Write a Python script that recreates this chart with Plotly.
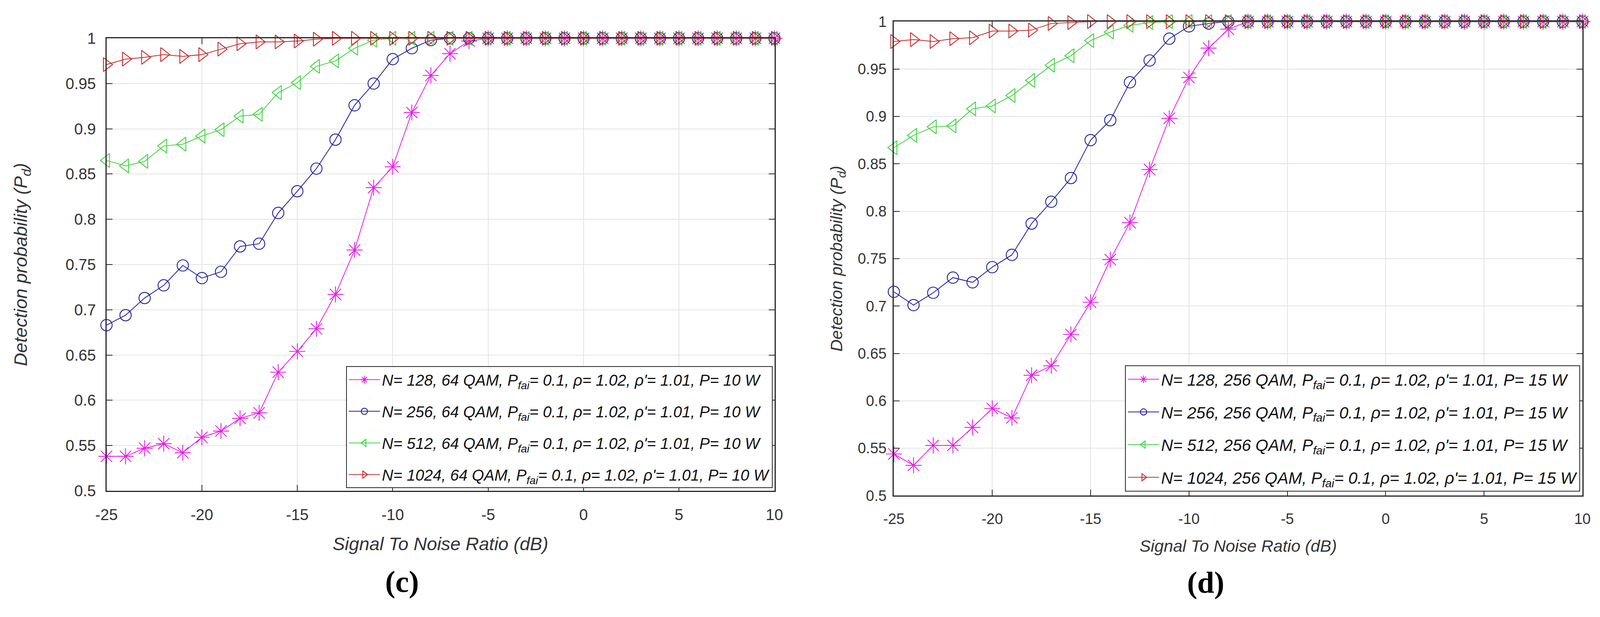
import plotly.graph_objects as go
from plotly.subplots import make_subplots

# SNR grid (dB)
snr_db = [-25, -24, -23, -22, -21, -20, -19, -18, -17, -16, -15, -14,
          -13, -12, -11, -10, -9, -8, -7, -6, -5, -4, -3, -2,
          -1, 0, 1, 2, 3, 4, 5, 6, 7, 8, 9, 10]

# (c) 64 QAM, P = 10 W
pd_c_128 = [0.538, 0.538, 0.547, 0.552, 0.542, 0.559, 0.566, 0.580, 0.586, 0.631, 0.654, 0.679,
            0.717, 0.766, 0.835, 0.858, 0.918, 0.959, 0.983, 0.997, 1.0, 1.0, 1.0, 1.0,
            1.0, 1.0, 1.0, 1.0, 1.0, 1.0, 1.0, 1.0, 1.0, 1.0, 1.0, 1.0]
pd_c_256 = [0.683, 0.694, 0.713, 0.727, 0.749, 0.735, 0.742, 0.770, 0.773, 0.807, 0.831, 0.856,
            0.888, 0.926, 0.950, 0.977, 0.989, 0.998, 1.0, 1.0, 1.0, 1.0, 1.0, 1.0,
            1.0, 1.0, 1.0, 1.0, 1.0, 1.0, 1.0, 1.0, 1.0, 1.0, 1.0, 1.0]
pd_c_512 = [0.865, 0.859, 0.864, 0.881, 0.883, 0.892, 0.899, 0.914, 0.916, 0.940, 0.951, 0.969,
            0.975, 0.989, 0.998, 1.0, 1.0, 1.0, 1.0, 1.0, 1.0, 1.0, 1.0, 1.0,
            1.0, 1.0, 1.0, 1.0, 1.0, 1.0, 1.0, 1.0, 1.0, 1.0, 1.0, 1.0]
pd_c_1024 = [0.971, 0.977, 0.979, 0.982, 0.980, 0.982, 0.988, 0.994, 0.996, 0.996, 0.997, 0.999,
             1.0, 1.0, 1.0, 1.0, 1.0, 1.0, 1.0, 1.0, 1.0, 1.0, 1.0, 1.0,
             1.0, 1.0, 1.0, 1.0, 1.0, 1.0, 1.0, 1.0, 1.0, 1.0, 1.0, 1.0]

# (d) 256 QAM, P = 15 W
pd_d_128 = [0.544, 0.532, 0.553, 0.553, 0.572, 0.592, 0.582, 0.627, 0.637, 0.670, 0.704, 0.749,
            0.788, 0.844, 0.898, 0.941, 0.972, 0.992, 1.0, 1.0, 1.0, 1.0, 1.0, 1.0,
            1.0, 1.0, 1.0, 1.0, 1.0, 1.0, 1.0, 1.0, 1.0, 1.0, 1.0, 1.0]
pd_d_256 = [0.715, 0.701, 0.714, 0.730, 0.725, 0.741, 0.754, 0.787, 0.810, 0.835, 0.875, 0.896,
            0.936, 0.959, 0.982, 0.995, 0.998, 1.0, 1.0, 1.0, 1.0, 1.0, 1.0, 1.0,
            1.0, 1.0, 1.0, 1.0, 1.0, 1.0, 1.0, 1.0, 1.0, 1.0, 1.0, 1.0]
pd_d_512 = [0.867, 0.880, 0.889, 0.890, 0.908, 0.911, 0.922, 0.938, 0.954, 0.964, 0.980, 0.989,
            0.996, 0.999, 1.0, 1.0, 1.0, 1.0, 1.0, 1.0, 1.0, 1.0, 1.0, 1.0,
            1.0, 1.0, 1.0, 1.0, 1.0, 1.0, 1.0, 1.0, 1.0, 1.0, 1.0, 1.0]
pd_d_1024 = [0.979, 0.981, 0.979, 0.982, 0.983, 0.990, 0.990, 0.991, 0.998, 0.999, 1.0, 1.0,
             1.0, 1.0, 1.0, 1.0, 1.0, 1.0, 1.0, 1.0, 1.0, 1.0, 1.0, 1.0,
             1.0, 1.0, 1.0, 1.0, 1.0, 1.0, 1.0, 1.0, 1.0, 1.0, 1.0, 1.0]

x_tick_vals = [-25, -20, -15, -10, -5, 0, 5, 10]
x_tick_text = ["-25", "-20", "-15", "-10", "-5", "0", "5", "10"]
y_tick_vals = [0.5, 0.55, 0.6, 0.65, 0.7, 0.75, 0.8, 0.85, 0.9, 0.95, 1.0]
y_tick_text = ["0.5", "0.55", "0.6", "0.65", "0.7", "0.75", "0.8", "0.85", "0.9", "0.95", "1"]

n_values = ["128", "256", "512", "1024"]
names_c = ["N= %s, 64 QAM, P<sub>fai</sub>= 0.1, ρ= 1.02, ρ'= 1.01, P= 10 W" % n for n in n_values]
names_d = ["N= %s, 256 QAM, P<sub>fai</sub>= 0.1, ρ= 1.02, ρ'= 1.01, P= 15 W" % n for n in n_values]

colors = ["#e61ee6", "#1e1e9a", "#3ed23e", "#c62a2a"]
symbols = ["asterisk-open", "circle-open", "triangle-left-open", "triangle-right-open"]
sizes = [34, 29, 31, 31]

W, H = 4306, 1579
# the page sits 8 px in from the corner and the shot is a bit narrower than the page,
# so layout positions (in its own pixels) are mapped through these
KX, OFF = 0.955, 8
FONT = "Liberation Sans"


def px(x):
    return (x * KX - OFF) / W


def py(y):
    return 1 - (y - OFF) / H


fig = make_subplots(rows=1, cols=2)

for i, ys in enumerate([pd_c_128, pd_c_256, pd_c_512, pd_c_1024]):
    fig.add_trace(go.Scatter(
        x=snr_db, y=ys, name=names_c[i], mode="lines+markers",
        line=dict(color=colors[i], width=2),
        marker=dict(symbol=symbols[i], size=sizes[i], color=colors[i],
                    line=dict(color=colors[i], width=2.2)),
        cliponaxis=False, legend="legend", legendgroup="c%d" % i,
    ), row=1, col=1)

for i, ys in enumerate([pd_d_128, pd_d_256, pd_d_512, pd_d_1024]):
    fig.add_trace(go.Scatter(
        x=snr_db, y=ys, name=names_d[i], mode="lines+markers",
        line=dict(color=colors[i], width=2),
        marker=dict(symbol=symbols[i], size=sizes[i], color=colors[i],
                    line=dict(color=colors[i], width=2.2)),
        cliponaxis=False, legend="legend2", legendgroup="d%d" % i,
    ), row=1, col=2)

axis_common = dict(
    showline=True, linecolor="#262626", linewidth=3, mirror="allticks",
    ticks="inside", ticklen=15, tickwidth=2, tickcolor="#262626",
    showgrid=True, gridcolor="#e3e3e3", gridwidth=2, zeroline=False,
)

fig.update_xaxes(range=[-25, 10], tickvals=x_tick_vals, ticktext=x_tick_text,
                 ticklabelstandoff=24, **axis_common)
fig.update_yaxes(range=[0.5, 1], tickvals=y_tick_vals, ticktext=y_tick_text, **axis_common)

tick_c = dict(family=FONT, size=40, color="#333333")
tick_d = dict(family=FONT, size=38, color="#333333")
title_c = dict(family=FONT, size=47, color="#333333", style="italic")
title_d = dict(family=FONT, size=43, color="#333333", style="italic")

fig.update_xaxes(row=1, col=1, domain=[px(258), px(2070)], tickfont=tick_c,
                 title=dict(text="Signal To Noise Ratio (dB)", font=title_c, standoff=38))
fig.update_xaxes(row=1, col=2, domain=[px(2394), px(4262)], tickfont=tick_d,
                 title=dict(text="Signal To Noise Ratio (dB)", font=title_d, standoff=34))
fig.update_yaxes(row=1, col=1, domain=[py(1269), py(78)], tickfont=tick_c, ticklabelstandoff=16,
                 title=dict(text="Detection probability (P<sub>d</sub>)", font=title_c, standoff=84))
fig.update_yaxes(row=1, col=2, domain=[py(1282), py(34)], tickfont=tick_d, ticklabelstandoff=8,
                 title=dict(text="Detection probability (P<sub>d</sub>)", font=title_d, standoff=26))

legend_common = dict(
    bgcolor="white", bordercolor="#262626", borderwidth=2,
    xanchor="right", yanchor="bottom", traceorder="grouped", itemwidth=80,
)

label_font = dict(family="Liberation Serif", size=78, color="black")

fig.update_layout(
    width=W, height=H,
    margin=dict(l=0, r=0, t=0, b=0),
    paper_bgcolor="white", plot_bgcolor="white",
    legend=dict(x=px(2065), y=py(1262), tracegroupgap=26,
                font=dict(family=FONT, size=40, color="#111111", style="italic"), **legend_common),
    legend2=dict(x=px(4256), y=py(1271), tracegroupgap=26,
                 font=dict(family=FONT, size=42, color="#111111", style="italic"), **legend_common),
    annotations=[
        dict(text="<b>(c)</b>", x=px(1060), y=py(1508), xref="paper", yref="paper",
             xanchor="center", yanchor="middle", showarrow=False, font=label_font),
        dict(text="<b>(d)</b>", x=px(3240), y=py(1510), xref="paper", yref="paper",
             xanchor="center", yanchor="middle", showarrow=False, font=label_font),
    ],
)

fig.write_html("out.html")
